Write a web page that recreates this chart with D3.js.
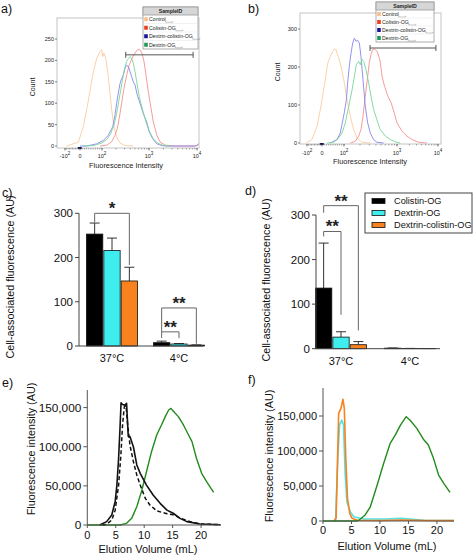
<!DOCTYPE html>
<html><head><meta charset="utf-8">
<script src="https://cdn.jsdelivr.net/npm/d3@7"></script>
<style>
body{margin:0;background:#fff;}
svg{display:block;font-family:"Liberation Sans",Arial,Helvetica,sans-serif;}
</style></head><body>
<svg id="fig" width="474" height="560"></svg>
<script>
// ================= DATA =================
// Flow cytometry histograms (panels a, b): [fluorescence intensity, count]
const flowSamples = ["Control","Colistin-OG","Dextrin-colistin-OG","Dextrin-OG"];
const flowXTicks = [-100, 0, 100, 1000, 10000];
const flowXTickLabels = [["-10","2"],["0",""],["10","2"],["10","3"],["10","4"]];
const flowYTicksA = [0,50,100,150,200,250];
const flowYTicksB = [0,100,200,300];

const histA_control = [[-89,0],[-11,9],[15,45],[33,92],[49,139],[61,174],[76,205],[91,221],[95,223],[99,225],[104,209],[110,217],[122,201],[136,162],[148,123],[161,84],[180,45],[205,21],[242,7],[309,1],[464,0]];
const histA_colistin = [[91,0],[126,2],[161,10],[189,25],[212,41],[232,64],[262,100],[294,135],[335,166],[381,190],[428,203],[478,213],[529,221],[583,225],[643,225],[710,217],[781,198],[862,166],[966,127],[1088,92],[1232,56],[1458,25],[1705,9],[2185,2],[3300,0],[8810,0],[10300,2],[11200,7]];
const histA_dexcol = [[0,0],[30,0],[76,5],[107,13],[136,25],[169,45],[189,72],[205,100],[222,123],[242,146],[262,158],[284,166],[309,182],[335,188],[363,186],[394,174],[428,162],[464,150],[503,143],[564,119],[643,100],[756,76],[893,56],[1010,33],[1195,17],[1458,5],[1860,1],[2370,0],[9500,0],[10600,4]];
const histA_dextrin = [[15,0],[61,1],[99,7],[126,15],[153,29],[180,49],[205,76],[226,103],[250,131],[276,158],[304,182],[335,198],[369,205],[400,209],[434,203],[464,194],[503,174],[548,150],[622,115],[731,84],[862,56],[1010,35],[1232,17],[1507,7],[2005,1],[2800,0]];

const histB_control = [[-111,0],[-67,9],[-33,44],[-11,88],[5,132],[15,167],[26,210],[38,228],[49,241],[56,247],[64,246],[68,237],[76,224],[86,202],[99,167],[114,114],[132,70],[152,35],[176,13],[218,2],[313,0]];
const histB_colistin = [[132,0],[163,4],[189,18],[209,35],[228,70],[252,123],[280,175],[300,211],[323,233],[348,246],[373,247],[407,244],[434,237],[474,219],[525,175],[582,149],[674,123],[779,105],[887,79],[1000,53],[1324,31],[1754,18],[2320,9],[3380,2],[5390,0]];
const histB_dexcol = [[38,0],[68,9],[83,26],[95,61],[101,79],[111,114],[117,158],[126,202],[136,237],[146,263],[157,276],[168,268],[181,270],[195,263],[209,228],[228,167],[252,97],[280,53],[313,26],[362,9],[418,2],[561,0]];
const histB_dextrin = [[23,0],[53,2],[76,13],[91,26],[106,53],[123,97],[142,140],[157,175],[171,206],[189,215],[203,206],[218,221],[235,215],[260,193],[292,158],[323,123],[362,88],[418,61],[484,35],[608,18],[748,9],[929,3],[1200,0]];

const gateA = [320, 8300, 213];   // [from, to, count level]
const gateB = [310, 8900, 250];

// Bar charts (panels c, d)
const groups = ["37°C","4°C"];
const barSeries = ["Colistin-OG","Dextrin-OG","Dextrin-colistin-OG"];
const barYTicks = [0,100,200,300];
const cMeans = [[253,216,147],[7.5,4.5,2]];
const cErr   = [[25,28,31],[3.5,1,0.5]];
const dMeans = [[136,26,9],[1.2,0.5,0.3]];
const dErr   = [[101,12,7],[0.4,0.2,0.1]];
// significance brackets: [group, seriesFrom, seriesTo, top, leftLegEnd, rightLegEnd, label]
const cSig = [["37°C",0,2,300,280,183,"*"],["4°C",0,1,32,18,18,"**"],["4°C",0,2,86,32,5,"**"]];
const dSig = [["37°C",0,1,263,252,76,"**"],["37°C",0,2,321,305,41,"**"]];

// SEC elution profiles (panels e, f): [volume mL, fluorescence]
const secXTicks = [0,5,10,15,20];
const secYTicks = [0,50000,100000,150000];
const e_solid = [[2.2,0],[3.4,4300],[4.3,12800],[4.9,30000],[5.2,51000],[5.5,85000],[5.75,124000],[5.93,156000],[6.2,154000],[6.6,153000],[6.9,155500],[7.2,113000],[7.5,113000],[7.8,106500],[8.1,100000],[8.7,76700],[9.3,66000],[10.4,51000],[11.6,38000],[12.8,27700],[14,19000],[15.1,15000],[16.3,8500],[17.5,4300],[19.8,1300],[23.4,400]];
const e_dashed = [[2.6,0],[3.4,800],[4.3,6400],[4.9,19000],[5.5,51000],[5.9,89000],[6.2,128000],[6.5,151000],[6.8,152500],[7.1,128000],[7.5,102000],[8.1,81000],[8.7,64000],[9.3,51000],[10.2,34000],[11,25600],[12.2,18000],[14,14500],[15.1,13000],[16.6,8000],[18.1,4300],[19.8,1300],[23.4,400]];
const e_green = [[0,0],[5.75,0],[6.9,2100],[7.8,8500],[8.7,23400],[9.6,44700],[10.4,68000],[11.3,94000],[12.2,115000],[13.1,128700],[13.7,138500],[14.3,147000],[14.7,149000],[15.1,145700],[16,138500],[16.9,127800],[17.8,115000],[18.4,106500],[19.2,85000],[20.1,66000],[21,55000],[22.2,41800]];
const f_orange = [[1.9,0],[2.3,3800],[2.75,154000],[3.16,161000],[3.5,174000],[3.74,161000],[4.0,89500],[4.3,32000],[4.7,11000],[5.1,3800],[6,1000],[10,800],[14,1500],[18,800],[23,500]];
const f_cyan = [[2.2,0],[2.6,89000],[2.9,137000],[3.3,144000],[3.6,137000],[3.9,66000],[4.2,27600],[4.8,13000],[5.4,6000],[7.1,2900],[11.2,2900],[13.6,3800],[15.3,2900],[17.7,1000],[23,500]];
const f_green = [[0,0],[5.7,0],[6.3,1000],[7.4,8600],[8.3,20000],[9.5,51000],[10.6,81000],[11.8,111000],[12.7,123000],[13.6,137000],[14.6,149000],[15.3,144000],[16.5,132000],[17.7,116000],[18.5,108500],[19.4,89500],[20.3,65700],[21.2,53800],[22.3,41000]];

// ================= DRAWING =================
const svg = d3.select("#fig");
svg.append("rect").attr("width",474).attr("height",560).attr("fill","#fff");

function panelLabel(t,x,y){
  svg.append("text").attr("x",x).attr("y",y).attr("font-size",12.5).attr("fill","#111").text(t);
}
panelLabel("a)",1,13); panelLabel("b)",248,13);
panelLabel("c)",2,197); panelLabel("d)",245,195);
panelLabel("e)",2,387); panelLabel("f)",248,384);

// ---------- flow panels ----------
const flowCurveColors = ["#f9cc9e","#f49090","#8686ee","#78d598"];
const flowSwatch = ["#f8bf8a","#e8401c","#14149a","#1e9a58"];
let clipId = 0;
function flowPanel(cfg){
  const g = svg.append("g");
  const [bx0,by0,bx1,by1] = cfg.box;
  const T = v => Math.abs(v) <= 100 ? v/100 : Math.sign(v)*(1+Math.log10(Math.abs(v)/100));
  const xs = d3.scaleLinear().domain([-1,0,1,2,3]).range(cfg.tpos);
  const x = v => xs(T(v));
  const y = d3.scaleLinear().domain(cfg.yDom).range(cfg.yRange);
  const cid = "clip"+(clipId++);
  g.append("clipPath").attr("id",cid).append("rect").attr("x",bx0).attr("y",by0).attr("width",bx1-bx0).attr("height",by1-by0);
  g.append("rect").attr("x",bx0).attr("y",by0).attr("width",bx1-bx0).attr("height",by1-by0)
    .attr("fill","none").attr("stroke","#c4c4c4").attr("stroke-width",1);
  const line = d3.line().x(d=>x(d[0])).y(d=>y(d[1]));
  const cg = g.append("g").attr("clip-path",`url(#${cid})`);
  cfg.series.forEach((s,i)=>{
    cg.append("path").attr("d",line(s)).attr("fill","none").attr("stroke",flowCurveColors[i]).attr("stroke-width",0.9);
  });
  g.append("line").attr("x1",x(-15)).attr("x2",x(8)).attr("y1",by1).attr("y2",by1).attr("stroke","#1a1a50").attr("stroke-width",2);
  cfg.yTicks.forEach(t=>{
    g.append("line").attr("x1",bx0-2).attr("x2",bx0).attr("y1",y(t)).attr("y2",y(t)).attr("stroke","#333").attr("stroke-width",0.6);
    g.append("text").attr("x",bx0-3).attr("y",y(t)).attr("dy","0.35em").attr("text-anchor","end").attr("font-size",5.5).attr("fill","#222").text(t);
  });
  const minor = [].concat(d3.range(-100,0,10), [0], d3.range(10,100,10), d3.range(100,1000,100), d3.range(1000,10001,1000));
  minor.forEach(t=>{
    g.append("line").attr("x1",x(t)).attr("x2",x(t)).attr("y1",by1).attr("y2",by1+1.5).attr("stroke","#555").attr("stroke-width",0.5);
  });
  flowXTicks.forEach((t,i)=>{
    g.append("line").attr("x1",x(t)).attr("x2",x(t)).attr("y1",by1).attr("y2",by1+2.5).attr("stroke","#333").attr("stroke-width",0.6);
    const tx = g.append("text").attr("x",x(t)).attr("y",cfg.xTickY).attr("text-anchor","middle").attr("font-size",5.5).attr("fill","#222");
    tx.append("tspan").text(flowXTickLabels[i][0]);
    if(flowXTickLabels[i][1]) tx.append("tspan").attr("dy",-2.5).attr("font-size",4.5).text(flowXTickLabels[i][1]);
  });
  g.append("text").attr("transform",`translate(${cfg.countPos[0]},${cfg.countPos[1]}) rotate(-90)`).attr("text-anchor","middle").attr("font-size",7).attr("fill","#222").text("Count");
  g.append("text").attr("x",cfg.xlabPos[0]).attr("y",cfg.xlabPos[1]).attr("text-anchor","middle").attr("font-size",7.4).attr("fill","#222").text("Fluorescence Intensity");
  const gx0=x(cfg.gate[0]), gx1=x(cfg.gate[1]), gy=y(cfg.gate[2]);
  g.append("path").attr("d",`M${gx0},${gy-3}V${gy+3}M${gx0},${gy}H${gx1}M${gx1},${gy-3}V${gy+3}`).attr("stroke","#555").attr("stroke-width",1).attr("fill","none");
  const L = cfg.legend;
  const lg = g.append("g");
  lg.append("rect").attr("x",L.x).attr("y",L.y).attr("width",L.w).attr("height",L.h).attr("fill","#fff").attr("stroke","#9a9a9a").attr("stroke-width",0.8);
  lg.append("rect").attr("x",L.x).attr("y",L.y).attr("width",L.w).attr("height",L.hh).attr("fill","#d6d6d6").attr("stroke","#9a9a9a").attr("stroke-width",0.8);
  lg.append("text").attr("x",L.x+L.w/2).attr("y",L.y+L.hh/2).attr("dy","0.35em").attr("text-anchor","middle").attr("font-size",5.2).attr("font-weight","bold").attr("fill","#222").text("SampleID");
  const rh = (L.h-L.hh)/4;
  flowSamples.forEach((s,i)=>{
    const cy = L.y+L.hh+rh*(i+0.5);
    lg.append("rect").attr("x",L.x+1.2).attr("y",cy-2).attr("width",3.6).attr("height",4).attr("fill",flowSwatch[i]);
    const t = lg.append("text").attr("x",L.x+6).attr("y",cy).attr("dy","0.35em").attr("font-size",5.2).attr("fill","#222").text(s);
    const w = t.node().getComputedTextLength();
    lg.append("path").attr("d",`M${L.x+6+w},${cy+1.5}V${cy+3}H${L.x+6+w+7}V${cy+1.8}`).attr("fill","none").attr("stroke","#888").attr("stroke-width",0.5);
    if(i<3) lg.append("line").attr("x1",L.x).attr("x2",L.x+L.w).attr("y1",cy+rh/2).attr("y2",cy+rh/2).attr("stroke","#e4e4e4").attr("stroke-width",0.5);
  });
}

flowPanel({box:[57,18,199,148], tpos:[65,80,102,149,197], yDom:[0,250], yRange:[146,39], yTicks:flowYTicksA,
  series:[histA_control,histA_colistin,histA_dexcol,histA_dextrin], gate:gateA, xTickY:157.5,
  countPos:[35,87], xlabPos:[126,168], legend:{x:143,y:7,w:55,h:42,hh:8}});
flowPanel({box:[300,13,441,144], tpos:[307,322,344,397,438], yDom:[0,300], yRange:[143,29], yTicks:flowYTicksB,
  series:[histB_control,histB_colistin,histB_dexcol,histB_dextrin], gate:gateB, xTickY:154.5,
  countPos:[280,72], xlabPos:[370,164], legend:{x:376,y:2,w:58,h:40,hh:8}});

// ---------- bar panels ----------
const barColors = ["#000000","#3eeeee","#f7821e"];
function barPanel(cfg){
  const g = svg.append("g");
  const y = d3.scaleLinear().domain([0,300]).range(cfg.yRange);
  const gx = d3.scalePoint().domain(groups).range(cfg.groupRange);
  const sx = d3.scaleBand().domain(d3.range(barSeries.length)).range([-25.5,25.5]).paddingInner(0.06);
  const bw = sx.bandwidth();
  groups.forEach((gr,gi)=>{
    barSeries.forEach((s,si)=>{
      const x0 = gx(gr)+sx(si), m = cfg.means[gi][si], e = cfg.err[gi][si];
      const cx = x0+bw/2;
      g.append("line").attr("x1",cx).attr("x2",cx).attr("y1",y(m)).attr("y2",y(m+e)).attr("stroke","#333").attr("stroke-width",1);
      g.append("line").attr("x1",cx-5).attr("x2",cx+5).attr("y1",y(m+e)).attr("y2",y(m+e)).attr("stroke","#333").attr("stroke-width",1);
      g.append("rect").attr("x",x0).attr("y",y(m)).attr("width",bw).attr("height",y(0)-y(m))
        .attr("fill",barColors[si]).attr("stroke","#111").attr("stroke-width",0.8);
    });
  });
  const ax = cfg.axisX;
  g.append("line").attr("x1",ax).attr("x2",ax).attr("y1",y(0)).attr("y2",y(300)).attr("stroke","#444").attr("stroke-width",1);
  g.append("line").attr("x1",ax).attr("x2",cfg.axisEnd).attr("y1",y(0)).attr("y2",y(0)).attr("stroke","#444").attr("stroke-width",1);
  barYTicks.forEach(t=>{
    g.append("line").attr("x1",ax-4).attr("x2",ax).attr("y1",y(t)).attr("y2",y(t)).attr("stroke","#444").attr("stroke-width",1);
    g.append("text").attr("x",ax-6).attr("y",y(t)).attr("dy","0.36em").attr("text-anchor","end").attr("font-size",11.5).attr("fill","#111").text(t);
  });
  groups.forEach(gr=>{
    g.append("text").attr("x",gx(gr)).attr("y",cfg.xTickY).attr("text-anchor","middle").attr("font-size",11).attr("fill","#111").text(gr);
  });
  g.append("text").attr("transform",`translate(${cfg.ylabPos[0]},${cfg.ylabPos[1]}) rotate(-90)`).attr("dy","0.35em").attr("text-anchor","middle").attr("font-size",10.8).attr("fill","#111").text("Cell-associated fluorescence (AU)");
  cfg.sig.forEach(([gr,a,b,top,l,r,lab])=>{
    const xa = gx(gr)+sx(a)+bw/2, xb = gx(gr)+sx(b)+bw/2;
    g.append("path").attr("d",`M${xa},${y(l)}V${y(top)}H${xb}V${y(r)}`).attr("fill","none").attr("stroke","#666").attr("stroke-width",1);
    g.append("text").attr("x",(xa+xb)/2).attr("y",y(top)+1).attr("text-anchor","middle").attr("font-size",17).attr("font-weight","bold").attr("fill","#222").text(lab);
  });
  if(cfg.legend){
    const L = cfg.legend;
    g.append("rect").attr("x",L.x).attr("y",L.y).attr("width",L.w).attr("height",L.h).attr("fill","#fff").attr("stroke","#444").attr("stroke-width",1);
    barSeries.forEach((s,i)=>{
      const cy = L.y+8+i*12;
      g.append("rect").attr("x",L.x+7).attr("y",cy-2.5).attr("width",13).attr("height",5).attr("fill",barColors[i]).attr("stroke","#111").attr("stroke-width",0.8);
      g.append("text").attr("x",L.x+29).attr("y",cy).attr("dy","0.35em").attr("font-size",9.2).attr("fill","#111").text(s);
    });
  }
}
barPanel({yRange:[346,213.3], groupRange:[112,179], means:cMeans, err:cErr, axisX:79, axisEnd:203,
  xTickY:362, ylabPos:[10,277], sig:cSig});
barPanel({yRange:[348.7,215], groupRange:[341,410], means:dMeans, err:dErr, axisX:316, axisEnd:440,
  xTickY:365, ylabPos:[266,280], sig:dSig, legend:{x:365,y:193,w:107,h:40}});

// ---------- SEC panels ----------
function secPanel(cfg){
  const g = svg.append("g");
  const x = d3.scaleLinear().domain(cfg.xDom).range(cfg.xRange);
  const y = d3.scaleLinear().domain(cfg.yDom).range(cfg.yRange);
  const line = d3.line().x(d=>x(d[0])).y(d=>y(d[1]));
  cfg.series.forEach(s=>{
    const p = g.append("path").attr("d",line(s.data)).attr("fill","none").attr("stroke",s.color).attr("stroke-width",s.w||1.4).attr("stroke-linejoin","round");
    if(s.dash) p.attr("stroke-dasharray",s.dash);
  });
  const x0 = cfg.xRange[0], y0 = cfg.yRange[0];
  g.append("line").attr("x1",x0).attr("x2",x0).attr("y1",y0).attr("y2",cfg.yRange[1]).attr("stroke","#555").attr("stroke-width",1);
  g.append("line").attr("x1",x0).attr("x2",cfg.xRange[1]).attr("y1",y0).attr("y2",y0).attr("stroke","#555").attr("stroke-width",1);
  secYTicks.forEach(t=>{
    g.append("line").attr("x1",x0-4).attr("x2",x0).attr("y1",y(t)).attr("y2",y(t)).attr("stroke","#555").attr("stroke-width",1);
    g.append("text").attr("x",x0-6).attr("y",y(t)).attr("dy","0.36em").attr("text-anchor","end").attr("font-size",cfg.yTickFont).attr("fill","#111").text(d3.format(",")(t));
  });
  secXTicks.forEach(t=>{
    g.append("line").attr("x1",x(t)).attr("x2",x(t)).attr("y1",y0).attr("y2",y0+3).attr("stroke","#555").attr("stroke-width",1);
    g.append("text").attr("x",x(t)).attr("y",cfg.xTickY).attr("text-anchor","middle").attr("font-size",11).attr("fill","#111").text(t);
  });
  g.append("text").attr("x",cfg.xlabPos[0]).attr("y",cfg.xlabPos[1]).attr("text-anchor","middle").attr("font-size",11).attr("fill","#111").text("Elution Volume (mL)");
  g.append("text").attr("transform",`translate(${cfg.ylabPos[0]},${cfg.ylabPos[1]}) rotate(-90)`).attr("dy","0.35em").attr("text-anchor","middle").attr("font-size",10.8).attr("fill","#111").text("Fluorescence intensity (AU)");
}
secPanel({xDom:[0,23.5], xRange:[87.3,221], yDom:[0,172500], yRange:[525,390], xTickY:539, xlabPos:[148,553], ylabPos:[31,449], yTickFont:11.8,
  series:[{data:e_green,color:"#238a1c",w:1.4},{data:e_dashed,color:"#111",dash:"4,2.5",w:1.5},{data:e_solid,color:"#111",w:1.6}]});
secPanel({xDom:[0,23], xRange:[323,454], yDom:[0,190000], yRange:[521,388], xTickY:534, xlabPos:[387,550], ylabPos:[269,456], yTickFont:11,
  series:[{data:f_cyan,color:"#4fe3e3",w:1.6},{data:f_orange,color:"#f7821e",w:1.6},{data:f_green,color:"#238a1c",w:1.4}]});
</script>
</body></html>
